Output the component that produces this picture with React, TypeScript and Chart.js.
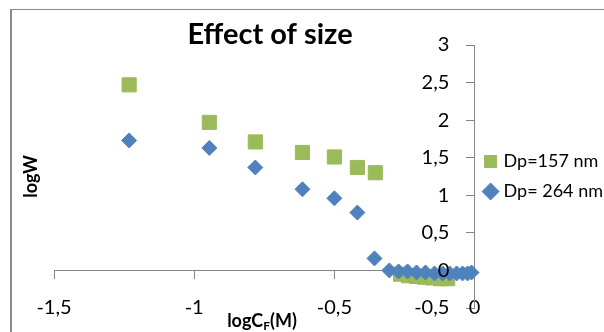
import React, { useEffect, useRef } from "react";
import { Chart, registerables } from "chart.js";

Chart.register(...registerables);

const seriesNames = ["Dp=157 nm", "Dp= 264 nm"];

const greenX = [-1.232, -0.946, -0.782, -0.614, -0.5, -0.418, -0.354, -0.264, -0.236, -0.207, -0.179, -0.15, -0.121, -0.096];
const greenY = [2.47, 1.97, 1.71, 1.57, 1.51, 1.37, 1.3, -0.05, -0.07, -0.08, -0.09, -0.1, -0.11, -0.11];

const blueX = [-1.232, -0.946, -0.782, -0.614, -0.5, -0.418, -0.357, -0.304, -0.271, -0.239, -0.207, -0.175, -0.143, -0.114, -0.089, -0.064, -0.043, -0.025, -0.011];
const blueY = [1.73, 1.63, 1.37, 1.08, 0.96, 0.77, 0.16, 0.0, -0.013, -0.013, -0.027, -0.027, -0.04, -0.04, -0.04, -0.04, -0.04, -0.04, -0.027];

const xMin = -1.5;
const xMax = 0;
const yMin = -0.5;
const yMax = 3;
const tickStep = 0.5;
// y tick labels sit a little left of the y axis (which crosses at x = 0)
const yLabelAnchorX = -0.09;

const chartTitle = "Effect of size";
const yTitle = "logW";
const xTitleMain = "logC";
const xTitleSub = "F";
const xTitleEnd = "(M)";

const GREEN = "#9BBB59";
const BLUE = "#4F81BD";
const AXIS = "#868686";
const FONT = "Lato, 'Open Sans', sans-serif";

const fmt = (v: number | string) => String(v).replace(".", ",");

const textPlugin = {
  id: "customText",
  beforeDraw(chart: any) {
    const ctx = chart.ctx;
    ctx.save();
    ctx.strokeStyle = "#8a8a8a";
    ctx.lineWidth = 1;
    ctx.beginPath();
    ctx.moveTo(10, 9.5);
    ctx.lineTo(604, 9.5);
    ctx.stroke();
    ctx.lineWidth = 2;
    ctx.beginPath();
    ctx.moveTo(11, 9);
    ctx.lineTo(11, 332);
    ctx.stroke();
    ctx.restore();
  },
  afterDraw(chart: any) {
    const ctx = chart.ctx;
    const area = chart.chartArea;
    ctx.save();
    ctx.fillStyle = "#000";
    ctx.textBaseline = "middle";
    ctx.textAlign = "center";
    ctx.font = `bold 29px ${FONT}`;
    ctx.fillText(chartTitle, 270, 35);

    ctx.save();
    ctx.translate(31, (area.top + area.bottom) / 2);
    ctx.rotate(-Math.PI / 2);
    ctx.font = `bold 18px ${FONT}`;
    ctx.fillText(yTitle, 0, 0);
    ctx.restore();

    ctx.font = `bold 18px ${FONT}`;
    const w1 = ctx.measureText(xTitleMain).width;
    ctx.font = `bold 12px ${FONT}`;
    const w2 = ctx.measureText(xTitleSub).width;
    ctx.font = `bold 18px ${FONT}`;
    const w3 = ctx.measureText(xTitleEnd).width;
    const total = w1 + w2 + w3;
    let x = 262 - total / 2;
    const y = 321;
    ctx.textAlign = "left";
    ctx.fillText(xTitleMain, x, y);
    x += w1;
    ctx.font = `bold 12px ${FONT}`;
    ctx.fillText(xTitleSub, x, y + 5);
    x += w2;
    ctx.font = `bold 18px ${FONT}`;
    ctx.fillText(xTitleEnd, x, y);
    ctx.restore();
  },
};

export default function App() {
  const ref = useRef<HTMLCanvasElement | null>(null);
  useEffect(() => {
    if (!ref.current) return;
    const chart = new Chart(ref.current, {
      type: "scatter",
      data: {
        datasets: [
          {
            label: seriesNames[0],
            data: greenX.map((x, i) => ({ x, y: greenY[i] })),
            backgroundColor: GREEN,
            borderColor: GREEN,
            borderWidth: 1,
            pointStyle: "rect",
            pointRadius: 10,
            order: 1,
            clip: false,
          },
          {
            label: seriesNames[1],
            data: blueX.map((x, i) => ({ x, y: blueY[i] })),
            backgroundColor: BLUE,
            borderColor: BLUE,
            borderWidth: 1,
            pointStyle: "rectRot",
            pointRadius: 7.5,
            order: 0,
            clip: false,
          },
        ],
      },
      options: {
        responsive: false,
        animation: false,
        layout: { padding: { left: 54, right: -9, top: 45, bottom: 24 } },
        plugins: {
          title: { display: false },
          tooltip: { enabled: false },
          legend: {
            display: true,
            position: "right",
            maxWidth: 200,
            labels: {
              usePointStyle: true,
              boxWidth: 8,
              boxHeight: 12,
              padding: 12,
              color: "#000",
              font: { family: FONT, size: 18 },
              sort: (a: any, b: any) => a.datasetIndex - b.datasetIndex,
            },
          },
        },
        scales: {
          x: {
            type: "linear",
            min: xMin,
            max: xMax,
            position: { y: 0 } as any,
            border: { display: true, color: AXIS, width: 1 },
            grid: { display: true, drawOnChartArea: false, drawTicks: true, tickLength: 8, color: AXIS },
            ticks: {
              stepSize: tickStep,
              padding: 17,
              color: "#000",
              font: { family: FONT, size: 20 },
              callback: (v: any) => fmt(v),
            },
          },
          y: {
            type: "linear",
            min: yMin,
            max: yMax,
            position: { x: 0 } as any,
            border: { display: true, color: AXIS, width: 1 },
            grid: { display: true, drawOnChartArea: false, drawTicks: true, tickLength: 8, color: AXIS },
            ticks: { stepSize: tickStep, display: false },
          },
          yLabels: {
            type: "linear",
            axis: "y",
            min: yMin,
            max: yMax,
            z: 1,
            position: { x: yLabelAnchorX } as any,
            border: { display: false },
            grid: { display: false },
            ticks: {
              stepSize: tickStep,
              z: 1,
              color: "#000",
              font: { family: FONT, size: 20 },
              callback: (v: any) => fmt(v),
            },
          },
        },
      },
      plugins: [textPlugin],
    } as any);
    return () => chart.destroy();
  }, []);
  return (
    <div style={{ position: "fixed", left: 0, top: 0, width: 604, height: 332, background: "#fff" }}>
      <canvas ref={ref} width={604} height={332} style={{ width: 604, height: 332, display: "block" }} />
    </div>
  );
}
